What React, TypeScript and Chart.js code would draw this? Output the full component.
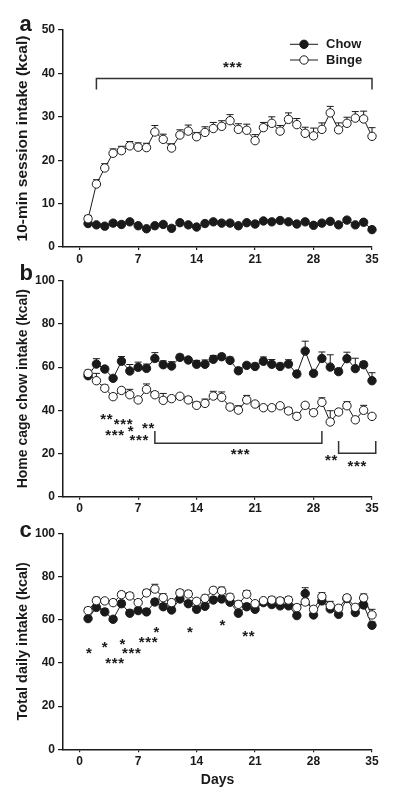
import React, { useEffect, useRef } from 'react';
import { Chart, registerables } from 'chart.js';

Chart.register(...registerables);

const FONT = '"Liberation Sans", Arial, Helvetica, sans-serif';
const INK = '#1a1a1a';

const days = [1, 2, 3, 4, 5, 6, 7, 8, 9, 10, 11, 12, 13, 14, 15, 16, 17, 18, 19, 20, 21, 22, 23, 24, 25, 26, 27, 28, 29, 30, 31, 32, 33, 34, 35];
const xTicks = [0, 7, 14, 21, 28, 35];

// Panel a: 10-min session intake (kcal)
const sessionChow = [5.4, 5.1, 4.8, 5.5, 5.2, 5.8, 4.9, 4.2, 4.9, 5.2, 4.3, 5.6, 5.1, 4.6, 5.4, 5.8, 5.5, 5.5, 4.9, 5.6, 5.3, 6.0, 5.8, 6.1, 5.8, 5.3, 5.8, 5.0, 5.5, 5.9, 5.1, 6.2, 5.1, 5.7, 4.0];
const sessionChowErr = [0.3, 0.3, 0.3, 0.3, 0.3, 0.3, 0.3, 0.3, 0.3, 0.3, 0.3, 0.3, 0.3, 0.3, 0.3, 0.3, 0.3, 0.3, 0.3, 0.3, 0.3, 0.3, 0.3, 0.3, 0.3, 0.3, 0.3, 0.3, 0.3, 0.3, 0.3, 0.3, 0.3, 0.3, 0.3];
const sessionBinge = [6.5, 14.5, 18.2, 21.6, 22.2, 23.3, 23.0, 22.9, 26.5, 24.8, 22.8, 25.8, 26.7, 25.4, 26.4, 27.3, 27.8, 29.1, 27.1, 26.9, 24.5, 27.5, 28.5, 26.7, 29.4, 28.2, 26.2, 25.6, 27.1, 30.9, 27.0, 28.5, 29.7, 29.5, 25.5];
const sessionBingeErr = [0.8, 1.0, 1.0, 1.0, 1.0, 1.0, 1.0, 1.0, 1.5, 1.2, 1.0, 1.2, 1.4, 1.0, 1.3, 1.4, 1.3, 1.4, 1.3, 1.4, 1.4, 1.2, 1.5, 1.3, 1.5, 1.4, 1.4, 1.8, 1.5, 1.5, 1.6, 1.4, 1.5, 1.8, 2.0];

// Panel b: home cage chow intake (kcal)
const homeChow = [56.0, 61.4, 59.1, 54.8, 62.7, 58.2, 59.9, 59.4, 64.0, 61.1, 60.5, 64.5, 63.3, 61.3, 61.3, 63.6, 64.8, 63.1, 58.3, 60.8, 60.3, 62.7, 61.3, 60.3, 61.4, 56.8, 67.4, 57.1, 64.0, 60.0, 57.9, 63.9, 59.3, 61.1, 53.7];
const homeChowErr = [1.5, 2.5, 1.2, 1.0, 2.2, 3.0, 2.4, 2.0, 2.7, 1.8, 2.0, 1.4, 1.0, 1.8, 2.0, 1.8, 1.3, 1.5, 1.5, 1.2, 1.5, 2.0, 2.2, 1.5, 2.0, 1.5, 4.6, 1.2, 3.0, 5.7, 1.5, 3.0, 4.8, 1.5, 3.7];
const homeBinge = [57.1, 53.7, 50.2, 46.3, 49.2, 47.2, 44.8, 49.7, 47.2, 44.6, 45.4, 46.5, 44.8, 42.3, 43.2, 46.6, 46.0, 41.5, 40.1, 44.8, 42.9, 41.2, 41.2, 42.1, 39.7, 37.2, 42.3, 38.9, 43.7, 34.6, 39.2, 42.1, 35.6, 40.0, 37.2];
const homeBingeErr = [1.5, 3.4, 1.5, 1.0, 1.2, 2.5, 1.0, 2.5, 1.5, 3.2, 1.0, 1.0, 1.5, 1.5, 2.0, 2.2, 2.5, 1.5, 2.0, 2.1, 1.0, 1.0, 1.0, 1.0, 1.5, 1.5, 1.2, 1.2, 2.1, 5.2, 1.2, 1.9, 1.0, 2.3, 1.0];

// Panel c: total daily intake (kcal)
const totalChow = [60.5, 65.7, 63.6, 60.2, 67.4, 63.0, 64.2, 63.6, 68.2, 66.0, 64.5, 69.6, 67.4, 64.8, 66.2, 69.1, 69.6, 68.1, 63.0, 66.0, 64.8, 67.9, 67.0, 66.4, 66.4, 61.9, 72.1, 62.2, 68.7, 65.0, 62.5, 69.8, 63.3, 66.8, 57.4];
const totalChowErr = [1.2, 1.5, 1.5, 1.2, 1.5, 1.5, 1.5, 1.5, 1.5, 1.5, 1.5, 1.5, 1.5, 1.5, 1.5, 1.5, 1.5, 1.5, 1.5, 1.5, 1.5, 1.5, 1.5, 1.5, 1.5, 1.5, 2.7, 1.5, 1.5, 1.5, 1.5, 1.5, 1.5, 1.5, 1.5];
const totalBinge = [64.2, 68.8, 68.7, 67.9, 71.6, 71.0, 67.9, 72.4, 74.2, 70.2, 67.9, 72.4, 71.9, 68.5, 69.9, 73.6, 73.3, 70.4, 67.1, 71.8, 67.4, 68.8, 69.1, 68.7, 69.1, 65.6, 68.2, 64.8, 70.7, 66.5, 65.3, 70.1, 65.7, 70.1, 62.2];
const totalBingeErr = [1.5, 1.6, 1.0, 1.0, 1.4, 1.5, 1.0, 1.5, 2.2, 1.8, 1.0, 1.5, 1.5, 1.0, 1.5, 1.4, 1.8, 1.5, 1.5, 1.7, 1.0, 1.0, 1.5, 1.5, 1.5, 1.5, 1.5, 1.0, 1.8, 2.0, 1.0, 1.2, 1.0, 1.8, 2.6];

// Significance marks (day, value, number of stars)
const sessionStars = [{ x: 18.3, y: 42.3, n: 3 }];
const sessionBrackets = [{ x1: 2, x2: 35, y: 38.8, end: 36.3 }];
const homeStars = [
  { x: 3.2, y: 37.8, n: 2 },
  { x: 5.2, y: 35.5, n: 3 },
  { x: 6.1, y: 31.9, n: 1 },
  { x: 8.2, y: 33.5, n: 2 },
  { x: 4.2, y: 30.4, n: 3 },
  { x: 7.1, y: 27.8, n: 3 },
  { x: 19.2, y: 21.3, n: 3 },
  { x: 30.1, y: 18.8, n: 2 },
  { x: 33.2, y: 16.0, n: 3 },
];
const homeBrackets = [
  { x1: 9, x2: 29, y: 24.7, end: 30.4 },
  { x1: 31, x2: 35.45, y: 20.1, end: 25.8 },
];
const totalStars = [
  { x: 1.1, y: 46.3, n: 1 },
  { x: 3.0, y: 48.8, n: 1 },
  { x: 4.2, y: 41.4, n: 3 },
  { x: 5.1, y: 50.6, n: 1 },
  { x: 6.2, y: 46.0, n: 3 },
  { x: 8.2, y: 51.2, n: 3 },
  { x: 9.2, y: 55.9, n: 1 },
  { x: 13.2, y: 55.7, n: 1 },
  { x: 17.1, y: 59.1, n: 1 },
  { x: 20.2, y: 54.2, n: 2 },
];
const totalBrackets: Bracket[] = [];

type Mark = { x: number; y: number; n: number };
type Bracket = { x1: number; x2: number; y: number; end: number };

type PanelSpec = {
  top: number;
  height: number;
  padTop: number;
  xAxisHeight: number;
  yMax: number;
  yStep: number;
  yTitle: string;
  yTitleSize: number;
  xTitle?: string;
  letter: string;
  letterBaseline: number;
  chow: number[];
  chowErr: number[];
  binge: number[];
  bingeErr: number[];
  stars: Mark[];
  brackets: Bracket[];
  legend: boolean;
};

const panels: PanelSpec[] = [
  {
    top: 0, height: 264, padTop: 30, xAxisHeight: 17, yMax: 50, yStep: 10,
    yTitle: '10-min session intake (kcal)', yTitleSize: 15.5, letter: 'a', letterBaseline: 30.5,
    chow: sessionChow, chowErr: sessionChowErr, binge: sessionBinge, bingeErr: sessionBingeErr,
    stars: sessionStars, brackets: sessionBrackets, legend: true,
  },
  {
    top: 264, height: 258, padTop: 16.7, xAxisHeight: 25.3, yMax: 100, yStep: 20,
    yTitle: 'Home cage chow intake (kcal)', yTitleSize: 14, letter: 'b', letterBaseline: 16,
    chow: homeChow, chowErr: homeChowErr, binge: homeBinge, bingeErr: homeBingeErr,
    stars: homeStars, brackets: homeBrackets, legend: false,
  },
  {
    top: 522, height: 275, padTop: 11.3, xAxisHeight: 47.7, yMax: 100, yStep: 20,
    yTitle: 'Total daily intake (kcal)', yTitleSize: 14.5, xTitle: 'Days', letter: 'c', letterBaseline: 15,
    chow: totalChow, chowErr: totalChowErr, binge: totalBinge, bingeErr: totalBingeErr,
    stars: totalStars, brackets: totalBrackets, legend: false,
  },
];

function drawStar(ctx: CanvasRenderingContext2D, cx: number, cy: number, n: number) {
  ctx.save();
  ctx.fillStyle = INK;
  ctx.font = `bold 15px ${FONT}`;
  ctx.textAlign = 'center';
  ctx.textBaseline = 'alphabetic';
  const gap = 6.5;
  for (let i = 0; i < n; i++) {
    const x = cx + (i - (n - 1) / 2) * gap;
    ctx.fillText('*', x, cy + 8.5);
  }
  ctx.restore();
}

function makePlugin(spec: PanelSpec) {
  return {
    id: 'panelExtras' + spec.letter,
    beforeDatasetsDraw(chart: any) {
      const ctx = chart.ctx as CanvasRenderingContext2D;
      const xs = chart.scales.x;
      const ys = chart.scales.y;
      ctx.save();
      ctx.strokeStyle = INK;
      ctx.lineWidth = 1;
      chart.data.datasets.forEach((ds: any) => {
        const errs: number[] = ds.errors;
        ds.data.forEach((p: any, i: number) => {
          const px = xs.getPixelForValue(p.x);
          const py = ys.getPixelForValue(p.y);
          const pe = ys.getPixelForValue(p.y + errs[i]);
          ctx.beginPath();
          ctx.moveTo(px, py);
          ctx.lineTo(px, pe);
          ctx.moveTo(px - 3.5, pe);
          ctx.lineTo(px + 3.5, pe);
          ctx.stroke();
        });
      });
      ctx.restore();
    },
    afterDraw(chart: any) {
      const ctx = chart.ctx as CanvasRenderingContext2D;
      const xs = chart.scales.x;
      const ys = chart.scales.y;
      ctx.save();
      ctx.strokeStyle = '#333';
      ctx.lineWidth = 1.5;
      spec.brackets.forEach((b) => {
        const x1 = xs.getPixelForValue(b.x1);
        const x2 = xs.getPixelForValue(b.x2);
        const y = ys.getPixelForValue(b.y);
        const ye = ys.getPixelForValue(b.end);
        ctx.beginPath();
        ctx.moveTo(x1, ye);
        ctx.lineTo(x1, y);
        ctx.lineTo(x2, y);
        ctx.lineTo(x2, ye);
        ctx.stroke();
      });
      ctx.restore();
      spec.stars.forEach((s) => {
        drawStar(ctx, xs.getPixelForValue(s.x), ys.getPixelForValue(s.y), s.n);
      });
      ctx.save();
      ctx.fillStyle = INK;
      ctx.font = `bold 22px ${FONT}`;
      ctx.textAlign = 'left';
      ctx.textBaseline = 'alphabetic';
      ctx.fillText(spec.letter, 19.5, spec.letterBaseline);
      ctx.restore();
      if (spec.legend) {
        const items = [
          { label: 'Chow', fill: INK, y: 44.3 },
          { label: 'Binge', fill: '#ffffff', y: 60 },
        ];
        ctx.save();
        items.forEach((it) => {
          ctx.strokeStyle = INK;
          ctx.lineWidth = 1;
          ctx.beginPath();
          ctx.moveTo(290, it.y);
          ctx.lineTo(318, it.y);
          ctx.stroke();
          ctx.beginPath();
          ctx.arc(304, it.y, 4.2, 0, Math.PI * 2);
          ctx.fillStyle = it.fill;
          ctx.fill();
          ctx.stroke();
          ctx.fillStyle = INK;
          ctx.font = `bold 13px ${FONT}`;
          ctx.textAlign = 'left';
          ctx.textBaseline = 'middle';
          ctx.fillText(it.label, 326, it.y + 0.5);
        });
        ctx.restore();
      }
    },
  };
}

function Panel({ spec }: { spec: PanelSpec }) {
  const ref = useRef<HTMLCanvasElement | null>(null);
  useEffect(() => {
    if (!ref.current) return;
    const tickFont = { family: FONT, size: 12, weight: 'bold' as const };
    const chart = new Chart(ref.current, {
      type: 'line',
      data: {
        datasets: [
          {
            label: 'Binge',
            data: days.map((d, i) => ({ x: d, y: spec.binge[i] })),
            errors: spec.bingeErr,
            borderColor: INK,
            borderWidth: 1,
            pointRadius: 4.2,
            pointBackgroundColor: '#ffffff',
            pointBorderColor: INK,
            pointBorderWidth: 1,
            clip: false,
            order: 1,
          } as any,
          {
            label: 'Chow',
            data: days.map((d, i) => ({ x: d, y: spec.chow[i] })),
            errors: spec.chowErr,
            borderColor: INK,
            borderWidth: 1,
            pointRadius: 4.2,
            pointBackgroundColor: INK,
            pointBorderColor: INK,
            pointBorderWidth: 1,
            clip: false,
            order: 2,
          } as any,
        ],
      },
      options: {
        responsive: false,
        animation: false,
        devicePixelRatio: 1,
        events: [],
        layout: { padding: { top: spec.padTop, right: 28, left: 0, bottom: 0 } },
        plugins: { legend: { display: false }, tooltip: { enabled: false } },
        scales: {
          x: {
            type: 'linear',
            min: -2,
            max: 35,
            afterBuildTicks: (scale: any) => {
              scale.ticks = xTicks.map((v) => ({ value: v }));
            },
            afterFit: (scale: any) => {
              scale.height = spec.xAxisHeight;
            },
            grid: { drawOnChartArea: false, drawTicks: true, tickLength: 3, color: INK, lineWidth: 1.2 },
            border: { display: true, color: INK, width: 1.5 },
            ticks: { font: tickFont, color: INK, padding: 2, maxRotation: 0 },
            title: spec.xTitle
              ? { display: true, text: spec.xTitle, color: INK, font: { family: FONT, size: 14, weight: 'bold' }, padding: { top: 0, bottom: 8.6 } }
              : { display: false },
          },
          y: {
            type: 'linear',
            min: 0,
            max: spec.yMax,
            ticks: { stepSize: spec.yStep, font: tickFont, color: INK, padding: 3 },
            afterFit: (scale: any) => {
              scale.width = 63;
            },
            grid: { drawOnChartArea: false, drawTicks: true, tickLength: 5, color: INK, lineWidth: 1.2 },
            border: { display: true, color: INK, width: 1.5 },
            title: { display: true, text: spec.yTitle, color: INK, font: { family: FONT, size: spec.yTitleSize, weight: 'bold' }, padding: { top: 23 - spec.yTitleSize * 0.6, bottom: 0 } },
          },
        },
      } as any,
      plugins: [makePlugin(spec)],
    });
    return () => chart.destroy();
  }, [spec]);
  return (
    <canvas
      ref={ref}
      width={400}
      height={spec.height}
      style={{ position: 'absolute', left: 0, top: spec.top, width: 400, height: spec.height }}
    />
  );
}

export default function App() {
  return (
    <div style={{ position: 'absolute', left: 0, top: 0, width: 400, height: 797, background: '#ffffff' }}>
      {panels.map((p) => (
        <Panel key={p.letter} spec={p} />
      ))}
    </div>
  );
}
